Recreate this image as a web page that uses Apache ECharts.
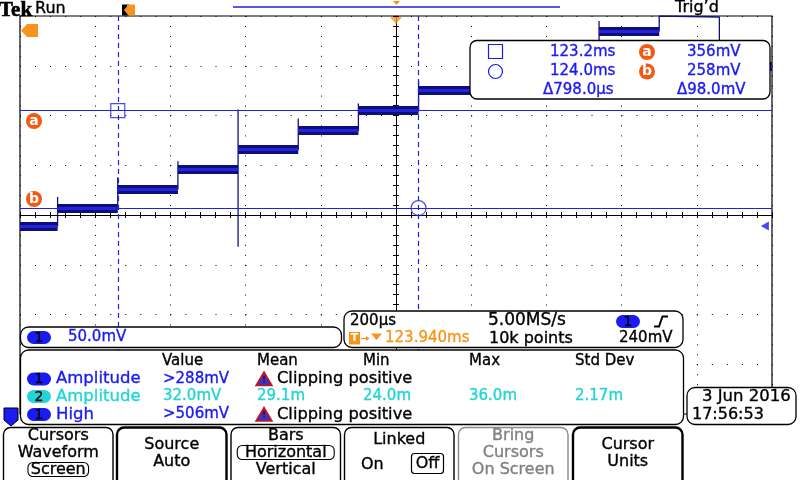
<!DOCTYPE html>
<html><head><meta charset="utf-8">
<script src="https://cdn.jsdelivr.net/npm/echarts@6/dist/echarts.min.js"></script>
<style>html,body{margin:0;padding:0;background:#fff}#c{width:800px;height:480px}</style>
</head><body><div id="c"></div>
<script>
// ---- data ----
const timeMin = 122.94, timeMax = 124.94;      // ms, 200 µs/div, 10 div
const voltMin = 51, voltMax = 451;             // mV, 50 mV/div, 8 div
const stepEdges  = [122.94, 123.04, 123.20, 123.36, 123.52, 123.68, 123.84, 124.00, 124.16, 124.32, 124.48, 124.64, 124.80, 124.94];
const stepLevels = [240, 258, 277, 297, 317, 336, 356, 376, 396, 416, 436, 450, 400];
const edgeSpikeHigh = [269, 289, 305, 357, 348, 363, 386, 405, 425, 446, 451, 450];
const edgeSpikeLow  = [null, null, null, 219, null, null, null, null, null, null, null, null];
const cursorTimes = [123.2, 124.0];
const cursorVolts = [356, 258];
const triggerTime = 123.94;
const triggerLevel = 240;

const readoutRows = [
  ['123.2ms', 'a', '356mV'],
  ['124.0ms', 'b', '258mV'],
  ['\u0394798.0\u00b5s', '', '\u039498.0mV']
];
const measHeaders = ['Value', 'Mean', 'Min', 'Max', 'Std Dev'];
const measRows = [
  { ch: '1', name: 'Amplitude', value: '>288mV', clip: true, stats: [] },
  { ch: '2', name: 'Amplitude', value: '32.0mV', clip: false, stats: ['29.1m', '24.0m', '36.0m', '2.17m'] },
  { ch: '1', name: 'High', value: '>506mV', clip: true, stats: [] }
];
const menuButtons = [
  { lines: ['Cursors', 'Waveform', 'Screen'], boxed: 2 },
  { lines: ['Source', 'Auto'], bold: true },
  { lines: ['Bars', 'Horizontal', 'Vertical'], boxed: 1 },
  { lines: ['Linked'], linked: true },
  { lines: ['Bring', 'Cursors', 'On Screen'], gray: true },
  { lines: ['Cursor', 'Units'], bold: true }
];

// ---- styles ----
const BLUE = '#1a1af2', CYAN = '#22d4d4', ORANGE = '#f7941d', RED_OR = '#f25a14';
const F = '"DejaVu Sans", sans-serif';
const font = (s, w) => (w ? w + ' ' : '') + s + 'px ' + F;

// ---- waveform construction from the step arrays ----
const trace = [[stepEdges[0], stepLevels[0]]];
for (let k = 0; k < stepLevels.length; k++) {
  if (k > 0) {
    const t = stepEdges[k];
    if (edgeSpikeLow[k - 1] != null) trace.push([t, edgeSpikeLow[k - 1]]);
    trace.push([t, edgeSpikeHigh[k - 1]]);
    trace.push([t, stepLevels[k]]);
  }
  trace.push([stepEdges[k + 1], stepLevels[k]]);
}
const bands = [];
stepLevels.forEach((v, k) => {
  if (v < voltMax - 3) bands.push({ coords: [[stepEdges[k], v], [stepEdges[k + 1], v]] });
});

// ---- graphic helpers ----
const G = [];
function txt(x, y, s, color, opt) {
  opt = opt || {};
  const c = color || '#000';
  G.push({ type: 'text', x: x, y: y, z: 100, style: {
    text: s, fill: c, font: opt.font || font(opt.size || 16),
    stroke: opt.noStroke ? null : c, lineWidth: opt.noStroke ? 0 : (opt.sw || 0.35),
    align: opt.align || 'left', verticalAlign: 'middle' } });
}
function num(x, y, s, color, opt) { txt(x, y, s, color, Object.assign({ size: 15 }, opt || {})); }
function rrect(x, y, w, h, r, stroke, lw, fill) {
  G.push({ type: 'rect', z: 99, shape: { x: x, y: y, width: w, height: h, r: r },
    style: { fill: fill || '#fff', stroke: stroke || '#000', lineWidth: lw || 1.3 } });
}
function pill(x, y, label, color) {
  G.push({ type: 'rect', z: 100, shape: { x: x, y: y, width: 24, height: 13, r: 6.5 }, style: { fill: color, stroke: null } });
  txt(x + 12, y + 7, label, '#000', { align: 'center', size: 14 });
}
function circLabel(cx, cy, s) {
  G.push({ type: 'circle', z: 100, shape: { cx: cx, cy: cy, r: 8 }, style: { fill: RED_OR, stroke: null } });
  txt(cx, cy, s, '#fff', { align: 'center', font: font(14, 'bold'), noStroke: true });
}

// top bar
txt(-1, 11, 'Tek', '#000', { font: 'bold 21px "Liberation Serif", serif', sw: 0.6 });
txt(35, 8.5, 'Run', '#000');
txt(675, 8, 'Trig\u2019d', '#000');
G.push({ type: 'line', z: 100, shape: { x1: 233, y1: 7, x2: 560, y2: 7 }, style: { stroke: '#2020d8', lineWidth: 1.5 } });
G.push({ type: 'polygon', z: 101, shape: { points: [[393, 1], [400, 1], [396.5, 5]] }, style: { fill: ORANGE } });
// trigger position marker (top-left)
G.push({ type: 'rect', z: 100, shape: { x: 122, y: 4.5, width: 7, height: 11 }, style: { fill: '#000' } });
G.push({ type: 'polygon', z: 101, shape: { points: [[124, 10], [128.5, 4.5], [135, 4.5], [135, 15.5], [128.5, 15.5]] }, style: { fill: ORANGE } });
txt(131, 10.5, 'T', '#fff', { align: 'center', font: 'bold 11px ' + F, noStroke: true });
// left T marker
G.push({ type: 'polygon', z: 101, shape: { points: [[21, 30.5], [27, 24], [38, 24], [38, 37], [27, 37]] }, style: { fill: ORANGE } });
txt(31.5, 31, 'T', '#fff', { align: 'center', font: 'bold 13px ' + F, noStroke: true });
circLabel(34, 121, 'a');
circLabel(34, 199, 'b');
// ch1 ground marker bottom-left
G.push({ type: 'polygon', z: 102, shape: { points: [[4, 408], [18, 408], [18, 420], [11, 426], [4, 420]] }, style: { fill: BLUE, stroke: '#000', lineWidth: 1 } });
txt(11, 416, '1', '#fff', { align: 'center', font: 'bold 13px ' + F, noStroke: true });

// cursor readout box
rrect(470, 40.5, 300, 58.5, 7);
G.push({ type: 'rect', z: 100, shape: { x: 488.5, y: 44.5, width: 14, height: 14 }, style: { fill: 'none', stroke: BLUE, lineWidth: 1.2 } });
G.push({ type: 'circle', z: 100, shape: { cx: 495.5, cy: 71.5, r: 7 }, style: { fill: 'none', stroke: BLUE, lineWidth: 1.2 } });
const rowY = [52, 71.5, 90.5];
readoutRows.forEach((r, i) => {
  num(i < 2 ? 550 : 543, rowY[i], r[0], BLUE);
  if (r[1]) circLabel(647, rowY[i], r[1]);
  num(i < 2 ? 687 : 677, rowY[i], r[2], BLUE);
});

// channel box
rrect(20.5, 327, 321, 20.5, 8);
pill(27, 331, '1', BLUE);
num(68, 337.5, '50.0mV', BLUE);

// horizontal / trigger box
rrect(344, 311, 339, 36.5, 8);
num(350, 321, '200\u00b5s', '#000');
txt(488, 321, '5.00MS/s', '#000', { size: 17 });
pill(616, 315, '1', BLUE);
G.push({ type: 'polyline', z: 101, shape: { points: [[654, 326.5], [659, 326.5], [662.5, 316.5], [668, 316.5]] }, style: { stroke: '#000', lineWidth: 2, fill: null } });
G.push({ type: 'rect', z: 100, shape: { x: 349, y: 332, width: 11, height: 12.5 }, style: { fill: ORANGE } });
txt(354.5, 338.5, 'T', '#fff', { align: 'center', font: 'bold 11px ' + F, noStroke: true });
G.push({ type: 'line', z: 100, shape: { x1: 361, y1: 338.5, x2: 368, y2: 338.5 }, style: { stroke: ORANGE, lineWidth: 1.3 } });
G.push({ type: 'polygon', z: 100, shape: { points: [[366, 336], [369.5, 338.5], [366, 341]] }, style: { fill: ORANGE } });
G.push({ type: 'polygon', z: 100, shape: { points: [[371, 333.5], [382, 333.5], [376.5, 340]] }, style: { fill: ORANGE } });
num(385, 338.5, '123.940ms', ORANGE);
txt(489, 338.5, '10k points', '#000');
num(619, 338.5, '240mV', '#000');

// measurement box
rrect(20.5, 350, 663, 74.5, 8);
const colX = [162, 257, 363, 469, 575];
measHeaders.forEach((h, i) => num(colX[i], 361, h, '#000'));
const mY = [379, 396.5, 414.5];
measRows.forEach((r, i) => {
  const c = r.ch === '2' ? CYAN : BLUE;
  pill(27, mY[i] - 6.5, r.ch, c);
  txt(56, mY[i], r.name, c, { size: 16.5 });
  num(163, mY[i], r.value, c);
  if (r.clip) {
    const d = mY[i] - 379;
    G.push({ type: 'polygon', z: 100, shape: { points: [[264, 372 + d], [272, 385.5 + d], [256, 385.5 + d]] }, style: { fill: '#3535c8', stroke: '#d81010', lineWidth: 1.5 } });
    txt(264, mY[i] + 1.5, '!', '#600', { align: 'center', font: 'bold 9px ' + F, noStroke: true });
    txt(277, mY[i], 'Clipping positive', '#000', { size: 16.3 });
  }
  r.stats.forEach((s, j) => num(colX[j + 1], mY[i], s, c));
});

// date box
rrect(687, 387.5, 109, 37, 8);
txt(702, 397, '3 Jun 2016', '#000', { size: 16.5 });
txt(692, 414.5, '17:56:53', '#000');

// menu buttons
const btnX = [3.5, 117, 231, 344.5, 458.5, 573];
menuButtons.forEach((b, i) => {
  const x = btnX[i], w = 109.5, cx = x + w / 2;
  G.push({ type: 'rect', z: 99, shape: { x: x, y: 427.5, width: w, height: 60, r: [7, 7, 0, 0] },
    style: { fill: '#fff', stroke: b.gray ? '#8a8a8a' : '#000', lineWidth: b.bold ? 2.4 : 1.4 } });
  const col = b.gray ? '#808080' : '#000';
  if (b.linked) {
    txt(cx, 439.5, b.lines[0], col, { align: 'center' });
    txt(361, 465, 'On', col);
    G.push({ type: 'rect', z: 100, shape: { x: 411.5, y: 453.5, width: 32, height: 20, r: 3 }, style: { fill: 'none', stroke: '#000', lineWidth: 1.2 } });
    txt(427.5, 464, 'Off', col, { align: 'center' });
    return;
  }
  const ys = b.lines.length === 2 ? [445, 462] : [435.5, 452.5, 469.5];
  b.lines.forEach((l, j) => {
    txt(cx, ys[j], l, col, { align: 'center' });
    if (b.boxed === j) {
      const bw = l.length * 9.1 + 6;
      G.push({ type: 'rect', z: 100, shape: { x: cx - bw / 2, y: ys[j] - 7, width: bw, height: 14, r: 5 }, style: { fill: 'none', stroke: '#000', lineWidth: 1.1 } });
    }
  });
});

// ---- chart ----
const noLbl = { show: false };
function divAxisX(extra) {
  return Object.assign({ type: 'value', gridIndex: 0, axisLabel: noLbl, splitLine: { show: false }, axisTick: { show: false }, axisLine: { show: false } }, extra);
}
const chart = echarts.init(document.getElementById('c'), null, { renderer: 'canvas' });
chart.setOption({
  animation: false,
  backgroundColor: '#fff',
  grid: { left: 20, top: 16, width: 752, height: 398, show: true, borderColor: '#000', borderWidth: 1.2, backgroundColor: '#fff' },
  xAxis: [
    divAxisX({ min: timeMin, max: timeMax, show: false }),
    divAxisX({ min: -5, max: 5, interval: 1, position: 'bottom',
      splitLine: { show: true, lineStyle: { color: '#000', width: 1, type: [1, 8.95] } } }),
    divAxisX({ min: -25, max: 25, interval: 1, position: 'bottom',
      axisLine: { show: true, onZero: true, onZeroAxisIndex: 1, lineStyle: { color: '#000', width: 1 } },
      axisTick: { show: true, length: 3, inside: false, lineStyle: { color: '#000' } } }),
    divAxisX({ min: -25, max: 25, interval: 1, position: 'bottom',
      axisLine: { show: false, onZero: true, onZeroAxisIndex: 1 },
      axisTick: { show: true, length: 3, inside: true, lineStyle: { color: '#000' } } }),
    divAxisX({ min: -25, max: 25, interval: 1, position: 'top',
      axisTick: { show: true, length: 2, inside: true, lineStyle: { color: '#000' } } })
  ],
  yAxis: [
    divAxisX({ min: voltMin, max: voltMax, show: false }),
    divAxisX({ min: -4, max: 4, interval: 1, position: 'left',
      splitLine: { show: true, lineStyle: { color: '#000', width: 1, type: [1, 14.04] } } }),
    divAxisX({ min: -20, max: 20, interval: 1, position: 'left',
      axisLine: { show: true, onZero: true, onZeroAxisIndex: 1, lineStyle: { color: '#000', width: 1 } },
      axisTick: { show: true, length: 3, inside: false, lineStyle: { color: '#000' } } }),
    divAxisX({ min: -20, max: 20, interval: 1, position: 'left',
      axisLine: { show: false, onZero: true, onZeroAxisIndex: 1 },
      axisTick: { show: true, length: 3, inside: true, lineStyle: { color: '#000' } } }),
    divAxisX({ min: -20, max: 20, interval: 1, position: 'left',
      axisTick: { show: true, length: 2, inside: true, lineStyle: { color: '#000' } } }),
    divAxisX({ min: -20, max: 20, interval: 1, position: 'right',
      axisTick: { show: true, length: 2, inside: true, lineStyle: { color: '#000' } } })
  ],
  series: [
    { type: 'lines', coordinateSystem: 'cartesian2d', xAxisIndex: 0, yAxisIndex: 0, z: 3, silent: true,
      data: bands, lineStyle: { color: '#0e0e78', width: 9, opacity: 1 } },
    { type: 'line', xAxisIndex: 0, yAxisIndex: 0, z: 4, data: trace, showSymbol: false, symbol: 'none',
      lineStyle: { color: '#10107c', width: 1.3 }, clip: true },
    { type: 'lines', coordinateSystem: 'cartesian2d', xAxisIndex: 0, yAxisIndex: 0, z: 5, silent: true,
      data: bands, lineStyle: { color: '#2424dc', width: 3, opacity: 1 } },
    { type: 'lines', coordinateSystem: 'cartesian2d', xAxisIndex: 0, yAxisIndex: 0, z: 6, silent: true,
      data: cursorVolts.map(v => ({ coords: [[timeMin, v], [timeMax, v]] })),
      lineStyle: { color: '#2020e0', width: 1, opacity: 1 } },
    { type: 'lines', coordinateSystem: 'cartesian2d', xAxisIndex: 0, yAxisIndex: 0, z: 6, silent: true,
      data: cursorTimes.map(t => ({ coords: [[t, voltMax], [t, voltMin]] })),
      lineStyle: { color: '#2020e0', width: 1.2, type: [5, 4], opacity: 1 } },
    { type: 'scatter', xAxisIndex: 0, yAxisIndex: 0, z: 7, silent: true,
      data: [{ value: [cursorTimes[0], cursorVolts[0]], symbol: 'rect', symbolSize: 14 },
             { value: [cursorTimes[1], cursorVolts[1]], symbol: 'circle', symbolSize: 15 }],
      itemStyle: { color: 'rgba(0,0,0,0)', borderColor: '#2020e0', borderWidth: 1.2 } },
    { type: 'scatter', xAxisIndex: 0, yAxisIndex: 0, z: 8, silent: true, clip: false,
      data: [[124.921, triggerLevel]], symbol: 'path://M10,0 L0,5 L10,10 Z', symbolSize: [8, 9],
      itemStyle: { color: BLUE } },
    { type: 'scatter', xAxisIndex: 0, yAxisIndex: 0, z: 8, silent: true, clip: false,
      data: [[triggerTime, voltMax]], symbol: 'path://M0,0 L12,0 L6,7 Z', symbolSize: [12, 7], symbolOffset: [0, 4.5],
      itemStyle: { color: ORANGE } }
  ],
  graphic: { elements: G }
});
</script></body></html>
